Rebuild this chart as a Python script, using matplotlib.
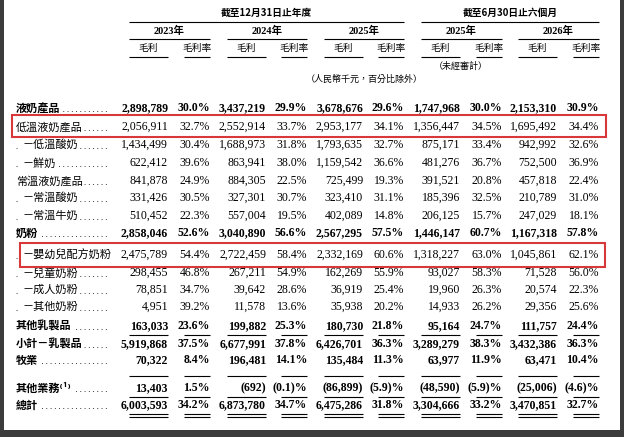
import matplotlib.pyplot as plt
from matplotlib.patches import Rectangle

# row data: label, bold, gross profit / margin pairs for 2023, 2024, 2025, 1H2025, 1H2026
labels = ['液奶產品', '低溫液奶產品', '－低溫酸奶', '－鮮奶', '常溫液奶產品', '－常溫酸奶', '－常溫牛奶',
          '奶粉', '－嬰幼兒配方奶粉', '－兒童奶粉', '－成人奶粉', '－其他奶粉', '其他乳製品',
          '小計－乳製品', '牧業', '其他業務⁽¹⁾', '總計']
bold = [True, False, False, False, False, False, False, True, False, False, False, False, True,
        True, True, True, True]
profit = [
    ['2,898,789', '3,437,219', '3,678,676', '1,747,968', '2,153,310'],
    ['2,056,911', '2,552,914', '2,953,177', '1,356,447', '1,695,492'],
    ['1,434,499', '1,688,973', '1,793,635', '875,171', '942,992'],
    ['622,412', '863,941', '1,159,542', '481,276', '752,500'],
    ['841,878', '884,305', '725,499', '391,521', '457,818'],
    ['331,426', '327,301', '323,410', '185,396', '210,789'],
    ['510,452', '557,004', '402,089', '206,125', '247,029'],
    ['2,858,046', '3,040,890', '2,567,295', '1,446,147', '1,167,318'],
    ['2,475,789', '2,722,459', '2,332,169', '1,318,227', '1,045,861'],
    ['298,455', '267,211', '162,269', '93,027', '71,528'],
    ['78,851', '39,642', '36,919', '19,960', '20,574'],
    ['4,951', '11,578', '35,938', '14,933', '29,356'],
    ['163,033', '199,882', '180,730', '95,164', '111,757'],
    ['5,919,868', '6,677,991', '6,426,701', '3,289,279', '3,432,386'],
    ['70,322', '196,481', '135,484', '63,977', '63,471'],
    ['13,403', '(692)', '(86,899)', '(48,590)', '(25,006)'],
    ['6,003,593', '6,873,780', '6,475,286', '3,304,666', '3,470,851'],
]
margin = [
    ['30.0%', '29.9%', '29.6%', '30.0%', '30.9%'],
    ['32.7%', '33.7%', '34.1%', '34.5%', '34.4%'],
    ['30.4%', '31.8%', '32.7%', '33.4%', '32.6%'],
    ['39.6%', '38.0%', '36.6%', '36.7%', '36.9%'],
    ['24.9%', '22.5%', '19.3%', '20.8%', '22.4%'],
    ['30.5%', '30.7%', '31.1%', '32.5%', '31.0%'],
    ['22.3%', '19.5%', '14.8%', '15.7%', '18.1%'],
    ['52.6%', '56.6%', '57.5%', '60.7%', '57.8%'],
    ['54.4%', '58.4%', '60.6%', '63.0%', '62.1%'],
    ['46.8%', '54.9%', '55.9%', '58.3%', '56.0%'],
    ['34.7%', '28.6%', '25.4%', '26.3%', '22.3%'],
    ['39.2%', '13.6%', '20.2%', '26.2%', '25.6%'],
    ['23.6%', '25.3%', '21.8%', '24.7%', '24.4%'],
    ['37.5%', '37.8%', '36.3%', '38.3%', '36.3%'],
    ['8.4%', '14.1%', '11.3%', '11.9%', '10.4%'],
    ['1.5%', '(0.1)%', '(5.9)%', '(5.9)%', '(4.6)%'],
    ['34.2%', '34.7%', '31.8%', '33.2%', '32.7%'],
]
years = ['2023年', '2024年', '2025年', '2025年', '2026年']

row_y = [108, 127, 145, 163, 181, 198, 216, 233, 255, 273, 290, 307, 326, 344, 360, 388, 405]
p_span = [(129, 168), (227, 266), (324, 363), (421, 460), (518, 557)]
m_span = [(184, 210), (281, 307), (378, 404), (476, 502), (573, 599)]

CJK = ['Noto Sans CJK TC', 'DejaVu Sans']
NUM = ['Liberation Serif', 'DejaVu Serif']
fs = 8

fig = plt.figure(figsize=(6.24, 4.37), dpi=100)
ax = fig.add_axes([0, 0, 1, 1])
ax.set_xlim(0, 624)
ax.set_ylim(437, 0)
ax.axis('off')

def hline(x0, x1, y, lw=0.8):
    ax.plot([x0, x1], [y, y], color='black', lw=lw, solid_capstyle='butt')

# header
ax.text((129 + 404) / 2, 13, '截至12月31日止年度', family=CJK, fontsize=7, weight='bold', ha='center', va='center')
hline(129, 404, 22)
ax.text((421 + 599) / 2, 13, '截至6月30日止六個月', family=CJK, fontsize=7, weight='bold', ha='center', va='center')
hline(421, 599, 22)
for i in range(5):
    x0, x1 = p_span[i][0], m_span[i][1]
    ax.text((x0 + x1) / 2, 31, years[i], family=NUM + CJK, fontsize=7.5, weight='bold', ha='center', va='center')
    hline(x0, x1, 39)
    for (a, b), t in ((p_span[i], '毛利'), (m_span[i], '毛利率')):
        ax.text((a + b) / 2, 48, t, family=CJK, fontsize=7, ha='center', va='center')
        hline(a, b, 57)
ax.text(461, 66, '（未經審計）', family=CJK, fontsize=6.5, style='italic', ha='center', va='center')
ax.text(364, 79, '（人民幣千元，百分比除外）', family=CJK, fontsize=6.5, style='italic', ha='center', va='center')

# rows
for r, lab in enumerate(labels):
    y = row_y[r]
    w = 'bold' if bold[r] else 'normal'
    x = 22 if lab.startswith('－') else 16
    # leader dots behind, label with white box on top
    ax.text(110, y + 2, '. ' * 30, family=NUM, fontsize=6, ha='right', va='center', zorder=1)
    ax.add_patch(Rectangle((0, y - 8), 16, 16, color='white', lw=0, zorder=2))
    ax.text(x, y, lab, family=CJK, fontsize=fs, weight=w, ha='left', va='center', zorder=3,
            bbox=dict(boxstyle='square,pad=0.15', fc='white', ec='none'))
    for i in range(5):
        ax.text(p_span[i][1], y, profit[r][i], family=NUM, fontsize=fs + 0.5, weight=w, ha='right', va='center')
        ax.text(m_span[i][1], y, margin[r][i], family=NUM, fontsize=fs + 0.5, weight=w, ha='right', va='center')

# total rules
for spans in (p_span, m_span):
    for a, b in spans:
        hline(a, b, 335)
        hline(a, b, 376)
        hline(a, b, 397)
        hline(a, b, 414)
        hline(a, b, 417)

# red boxes
ax.add_patch(Rectangle((12, 115), 594, 22, fill=False, ec='#d9383a', lw=1.5, zorder=4))
ax.add_patch(Rectangle((20, 243), 585, 24, fill=False, ec='#d9383a', lw=1.5, zorder=4))

# dark frame
for rect in ((0, 0, 4, 437), (620, 0, 4, 437), (0, 430, 624, 7)):
    ax.add_patch(Rectangle(rect[:2], rect[2], rect[3], color='#3c3c3c', lw=0, zorder=5))

fig.savefig('out.png', dpi=100)
